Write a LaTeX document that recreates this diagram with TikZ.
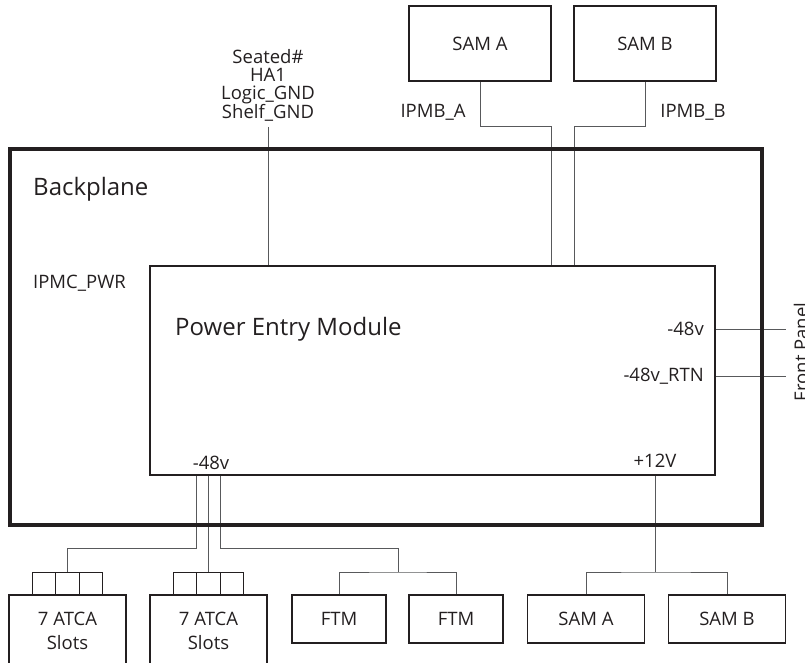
\documentclass[tikz,border=0pt]{standalone}
\usepackage{fontspec}
\setmainfont{Open Sans}
\usepackage{xcolor}
\usepackage{tikz}
\usetikzlibrary{positioning, calc, backgrounds}
\definecolor{inkblack}{HTML}{231F20}
\definecolor{wiregray}{HTML}{58595B}
\tikzset{
  plane/.style={rectangle, draw=inkblack, line width=4.5pt},
  pemodule/.style={rectangle, draw=inkblack, line width=2pt, minimum width=565pt, minimum height=209pt},
  unit/.style={rectangle, draw=inkblack, line width=1.2pt, outer sep=0pt, text centered, text=inkblack, font=\fontsize{18.5}{20}\selectfont},
  slotbox/.style={unit, minimum width=117pt, minimum height=72pt, align=center, font=\fontsize{18.5}{24}\selectfont},
  stub/.style={rectangle, draw=inkblack, line width=1pt, outer sep=0pt, minimum width=23.3pt, minimum height=22.5pt},
  wire/.style={draw=wiregray, line width=1pt},
  sig/.style={inner sep=0pt, text=inkblack, font=\fontsize{18.5}{18}\selectfont},
  heading/.style={inner sep=0pt, text=inkblack, font=\fontsize{24}{28}\selectfont}
}

\begin{document}
\begin{tikzpicture}[x=1pt, y=-1pt]
\useasboundingbox (0,0) rectangle (805,663);
\clip (0,0) rectangle (805,663);

% Backplane and module
\node[plane, minimum width=752pt, minimum height=376pt] (bp) at (386,337) {};
\node[heading, anchor=west] (bplabel) at (33,189) {Backplane};
\node[sig, anchor=west] (ipmcpwr) at (33,283) {IPMC\_PWR};
\node[pemodule] (pem) at (432.5,370.5) {};
\node[heading, anchor=west] (pemlabel) at (175,329) {Power Entry Module};
\node[sig, anchor=east] (neg48) at (704,329) {-48v};
\node[sig, anchor=east] (neg48rtn) at (704,376) {-48v\_RTN};
\node[sig] (pemneg) at (211,463) {-48v};
\node[sig] (pempos) at (655,461) {+12V};

% Front panel
\coordinate (fpa) at (786,329);
\coordinate (fpb) at (786,376);
\node[sig, rotate=90] (fpanel) at (801,352) {Front Panel};

% Shelf managers on top
\node[unit, minimum width=142pt, minimum height=75pt] (samtopa) at (480,43.5) {SAM A};
\node[unit, minimum width=142pt, minimum height=75pt, right=23pt of samtopa] (samtopb) {SAM B};
\node[sig] (ipmba) at (433,112) {IPMB\_A};
\node[sig] (ipmbb) at (693,112) {IPMB\_B};
\node[sig, align=center, anchor=south, inner ysep=5pt] (pemsig) at (268,127) {Seated\#\\HA1\\Logic\_GND\\Shelf\_GND};

% Loads below
\node[slotbox] (slota) at (67.5,631) {7 ATCA\\Slots};
\node[slotbox, right=24pt of slota] (slotb) {7 ATCA\\Slots};
\node[stub, above=0pt of slota] (sa2) {};
\node[stub, left=0pt of sa2] (sa1) {};
\node[stub, right=0pt of sa2] (sa3) {};
\node[stub, above=0pt of slotb] (sb2) {};
\node[stub, left=0pt of sb2] (sb1) {};
\node[stub, right=0pt of sb2] (sb3) {};
\node[unit, minimum width=94pt, minimum height=48pt] (ftma) at (339,619) {FTM};
\node[unit, minimum width=94pt, minimum height=48pt, right=23pt of ftma] (ftmb) {FTM};
\node[unit, minimum width=117pt, minimum height=48pt] (sama) at (586,619) {SAM A};
\node[unit, minimum width=117pt, minimum height=48pt, right=24pt of sama] (samb) {SAM B};
\coordinate (ftmsplit) at (398,572);
\coordinate (samsplit) at (655,572);

\begin{scope}[on background layer]
\draw[wire] (pemsig.south) -- (pemsig.south |- pem.north);
\draw[wire] (samtopa.south) -- ++(0,46) -| (samtopa.east |- pem.north);
\draw[wire] (samtopb.south) -- ++(0,46) -| (samtopb.west |- pem.north);
\draw[wire] (fpa -| pem.east) -- (fpa);
\draw[wire] (fpb -| pem.east) -- (fpb);
\draw[wire] ($(pem.south west)+(47,0)$) |- ($(sa2.north)+(0,-24)$) -- (sa2.north);
\draw[wire] (sb2.north |- pem.south) -- (sb2.north);
\draw[wire] ($(pem.south west)+(71,0)$) |- ($(ftmsplit)+(0,-24)$) -- (ftmsplit);
\draw[wire] (ftma.north) |- (ftmsplit) -| (ftmb.north);
\draw[wire] (samsplit |- pem.south) -- (samsplit);
\draw[wire] (sama.north) |- (samsplit) -| (samb.north);
\end{scope}
\end{tikzpicture}
\end{document}
